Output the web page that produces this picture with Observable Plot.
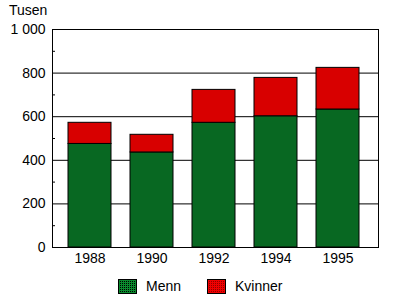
<!DOCTYPE html>
<html>
<head>
<meta charset="utf-8">
<script src="https://cdn.jsdelivr.net/npm/d3@7"></script>
<script src="https://cdn.jsdelivr.net/npm/@observablehq/plot@0.6"></script>
<style>
  body { margin: 0; background: #fff; font-family: "Liberation Sans", Arial, sans-serif; }
  #unit { font-size: 14px; line-height: 20px; height: 20px; padding-left: 9px; padding-top: 0px; box-sizing: border-box; color: #000; }
  #legend { display: flex; align-items: center; padding-left: 118px; padding-top: 8px; font-size: 14px; color: #000; }
  #legend .item { display: flex; align-items: center; }
  #legend svg { display: block; margin-right: 9px; }
</style>
</head>
<body>
<svg width="0" height="0" style="position:absolute">
  <defs>
    <pattern id="pMenn" width="2" height="2" patternUnits="userSpaceOnUse" patternTransform="translate(0.5 0.5)">
      <rect width="2" height="2" fill="#0a8a2e"></rect>
      <rect width="1" height="1" fill="#000"></rect>
    </pattern>
    <pattern id="pKvinner" width="2" height="2" patternUnits="userSpaceOnUse" patternTransform="translate(0.5 0.5)">
      <rect width="2" height="2" fill="#f00000"></rect>
      <rect width="1" height="1" fill="#900000"></rect>
    </pattern>
    <pattern id="lMenn" width="2" height="2" patternUnits="userSpaceOnUse">
      <rect width="2" height="2" fill="#0a8a2e"></rect>
      <rect width="1" height="1" fill="#000"></rect>
    </pattern>
    <pattern id="lKvinner" width="2" height="2" patternUnits="userSpaceOnUse">
      <rect width="2" height="2" fill="#f00000"></rect>
      <rect width="1" height="1" fill="#900000"></rect>
    </pattern>
  </defs>
</svg>
<div id="unit">Tusen</div>
<div id="chart"></div>
<div id="legend"></div>
<script>
const years = ["1988", "1990", "1992", "1994", "1995"];
const series = ["Menn", "Kvinner"];
const menn = [475, 436, 572, 602, 633];
const kvinner = [97, 81, 151, 176, 191];
const yTicks = [0, 200, 400, 600, 800, 1000];
const yMinorTicks = [100, 300, 500, 700, 900];
const seriesFill = {Menn: "url(#pMenn)", Kvinner: "url(#pKvinner)"};
const legendFill = {Menn: "url(#lMenn)", Kvinner: "url(#lKvinner)"};

const data = [];
years.forEach((y, i) => {
  data.push({year: y, sex: "Menn", value: menn[i]});
  data.push({year: y, sex: "Kvinner", value: kvinner[i]});
});

const fmt = d3.formatLocale({decimal: ",", thousands: " ", grouping: [3], currency: ["", ""]}).format(",");

const chart = Plot.plot({
  width: 394,
  height: 250,
  marginTop: 9,
  marginLeft: 52,
  marginRight: 16,
  marginBottom: 23,
  style: {fontFamily: "'Liberation Sans', Arial, sans-serif", fontSize: "14px", color: "#000", background: "#fff"},
  x: {domain: years, paddingInner: 0.31, paddingOuter: 0.27, align: 0.46, round: true, label: null},
  y: {domain: [0, 1000], label: null},
  marks: [
    Plot.gridY(yTicks, {stroke: "#000", strokeOpacity: 1, strokeWidth: 1}),
    Plot.barY(data, Plot.stackY({order: series}, {x: "year", y: "value", fill: "sex", stroke: "#000", strokeWidth: 1})),
    Plot.frame({stroke: "#000", strokeWidth: 1}),
    Plot.axisY(yMinorTicks, {tickSize: 3, dx: 3, tickFormat: () => "", stroke: "#000"}),
    Plot.axisY(yTicks, {tickSize: 0, tickPadding: 7, tickFormat: fmt}),
    Plot.axisX({tickSize: 0, tickPadding: 6})
  ]
});
// apply the pattern fills to the stacked bars by their series
d3.select(chart).selectAll("g[aria-label='bar'] rect").each(function(d, i) {
  this.setAttribute("fill", seriesFill[data[i].sex]);
});
document.getElementById("chart").appendChild(chart);

const legend = document.getElementById("legend");
series.forEach((s, i) => {
  const item = document.createElement("div");
  item.className = "item";
  if (i > 0) item.style.marginLeft = "26px";
  item.innerHTML = `<svg width="19" height="15"><rect x="0.5" y="0.5" width="18" height="14" fill="${legendFill[s]}" stroke="#000"></rect></svg><span>${s}</span>`;
  legend.appendChild(item);
});
</script>
</body>
</html>
